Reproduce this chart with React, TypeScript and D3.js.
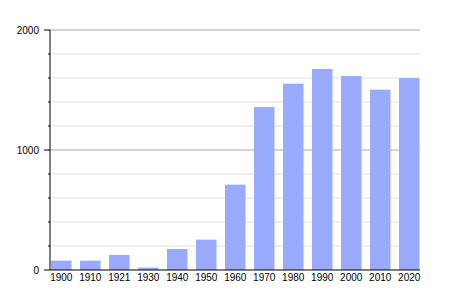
import React from "react";
import * as d3 from "d3";

const years = ["1900", "1910", "1921", "1930", "1940", "1950", "1960", "1970", "1980", "1990", "2000", "2010", "2020"];
const population = [78, 78, 125, 20, 175, 253, 711, 1358, 1553, 1675, 1617, 1503, 1600];
const majorTicks = [0, 1000, 2000];
const minorTicks = [200, 400, 600, 800, 1200, 1400, 1600, 1800];

export default function App() {
  const W = 450, H = 300;
  const left = 50, right = 420, top = 30, bottom = 270;
  const y = d3.scaleLinear().domain([0, 2000]).range([bottom, top]);
  const x = d3.scaleBand<string>().domain(years).range([51, 419.5]).paddingInner(0.293).paddingOuter(0);
  const font = "'Liberation Sans', Arial, sans-serif";
  return (
    <svg width={W} height={H} style={{ position: "absolute", left: 0, top: 0, background: "#fff" }}>
      {minorTicks.map((t) => (
        <g key={"m" + t}>
          <line x1={left} x2={right} y1={y(t)} y2={y(t)} stroke="#e2e2e2" strokeWidth={1} />
          <line x1={left - 2} x2={left} y1={y(t)} y2={y(t)} stroke="#000" strokeWidth={1} />
        </g>
      ))}
      {majorTicks.filter((t) => t > 0).map((t) => (
        <line key={"g" + t} x1={left} x2={right} y1={y(t)} y2={y(t)} stroke="#aaa" strokeWidth={1} />
      ))}
      {years.map((yr, i) => (
        <rect key={yr} x={x(yr)} y={y(population[i])} width={x.bandwidth()} height={y(0) - y(population[i])} fill="#99aaff" />
      ))}
      <line x1={left} x2={left} y1={top} y2={bottom} stroke="#000" strokeWidth={1} />
      <line x1={left} x2={right} y1={bottom} y2={bottom} stroke="#000" strokeWidth={1} />
      {majorTicks.map((t) => (
        <g key={"t" + t}>
          <line x1={left - 6} x2={left} y1={y(t)} y2={y(t)} stroke="#000" strokeWidth={1} />
          <text x={39} y={y(t)} dy="0.35em" textAnchor="end" fontSize={10} fontFamily={font} fill="#000">{t}</text>
        </g>
      ))}
      {years.map((yr) => (
        <text key={"l" + yr} x={(x(yr) as number) + x.bandwidth() / 2} y={281} textAnchor="middle" fontSize={10} fontFamily={font} fill="#000">{yr}</text>
      ))}
    </svg>
  );
}
